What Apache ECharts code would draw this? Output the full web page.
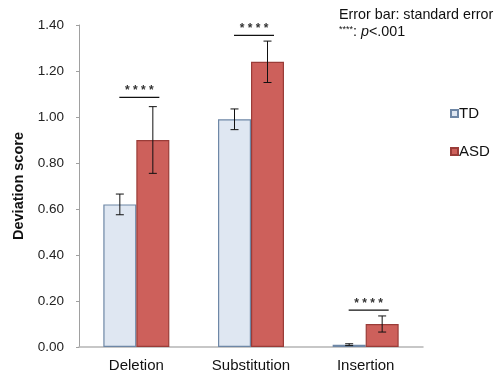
<!DOCTYPE html>
<html><head><meta charset="utf-8">
<script src="https://cdn.jsdelivr.net/npm/echarts@6/dist/echarts.min.js"></script>
<style>html,body{margin:0;padding:0;background:#fff}#c{width:494px;height:374px}</style>
</head><body><div id="c"></div>
<script>
const categories = ['Deletion', 'Substitution', 'Insertion'];
const tdValues = [0.62, 0.99, 0.01];
const asdValues = [0.90, 1.24, 0.10];
const tdErrors = [0.045, 0.045, 0.004];
const asdErrors = [0.145, 0.09, 0.035];
const sigLevels = [1.085, 1.355, 0.16];
const sigLabels = ['* * * *', '* * * *', '* * * *'];

const BAR_W = 33;
const font = 'Liberation Sans, Arial, Helvetica, sans-serif';

function errItem(vals, errs, side) {
  return function (params, api) {
    const i = api.value(0);
    const v = vals[i], e = errs[i];
    const c = api.coord([i, v]);
    const x = c[0] + side * BAR_W / 2;
    const top = api.coord([i, v + e])[1];
    const bot = api.coord([i, v - e])[1];
    const cap = 4;
    const st = { stroke: '#111', lineWidth: 1 };
    return { type: 'group', children: [
      { type: 'line', shape: { x1: x, y1: top, x2: x, y2: bot }, style: st },
      { type: 'line', shape: { x1: x - cap, y1: top, x2: x + cap, y2: top }, style: st },
      { type: 'line', shape: { x1: x - cap, y1: bot, x2: x + cap, y2: bot }, style: st }
    ]};
  };
}

const chart = echarts.init(document.getElementById('c'));
chart.setOption({
  animation: false,
  grid: { left: 79, right: 71, top: 25, bottom: 27 },
  legend: {
    data: ['TD', 'ASD'], orient: 'vertical', left: 450, top: 106, padding: 0, width: 44,
    itemWidth: 7, itemHeight: 7, itemGap: 23, icon: 'rect',
    textStyle: { fontFamily: font, fontSize: 15, color: '#111', padding: [0, 0, 0, -4] }
  },
  xAxis: {
    type: 'category', data: categories,
    axisLine: { lineStyle: { color: '#b5b5b5', width: 1.5 } },
    axisTick: { show: false },
    axisLabel: { fontFamily: font, fontSize: 15, color: '#111', margin: 11 }
  },
  yAxis: {
    type: 'value', min: 0, max: 1.4, interval: 0.2,
    name: 'Deviation score', nameLocation: 'middle', nameGap: 52,
    nameTextStyle: { fontFamily: font, fontSize: 14.5, fontWeight: 'bold', color: '#111' },
    axisLine: { show: true, lineStyle: { color: '#a0a0a0' } },
    axisTick: { show: true, length: 3, lineStyle: { color: '#a0a0a0' } },
    splitLine: { show: false },
    axisLabel: { fontFamily: font, fontSize: 13.5, color: '#222', margin: 15,
      formatter: v => v.toFixed(2) }
  },
  graphic: [
    { type: 'text', left: 339, top: 8, style: { text: 'Error bar: standard error', font: '14.3px ' + font, fill: '#111' } },
    { type: 'text', left: 339, top: 25, style: {
      rich: { s: { fontSize: 9, fontFamily: font, fill: '#111', verticalAlign: 'top' },
              n: { fontSize: 14.3, fontFamily: font, fill: '#111' },
              i: { fontSize: 14.3, fontFamily: font, fontStyle: 'italic', fill: '#111' } },
      text: '{s|****}{n|: }{i|p}{n|<.001}' } }
  ],
  series: [
    { name: 'TD', type: 'bar', data: tdValues, barWidth: BAR_W, barGap: '0%',
      itemStyle: { color: '#dfe7f2', borderColor: '#6e87a6', borderWidth: 1.2 } },
    { name: 'ASD', type: 'bar', data: asdValues, barWidth: BAR_W, barGap: '0%',
      itemStyle: { color: '#cd605b', borderColor: '#9a3c38', borderWidth: 1.2 } },
    { type: 'custom', data: categories.map((c, i) => [i]), renderItem: errItem(tdValues, tdErrors, -1), z: 5 },
    { type: 'custom', data: categories.map((c, i) => [i]), renderItem: errItem(asdValues, asdErrors, 1), z: 5 },
    { type: 'custom', data: sigLevels.map((v, i) => [i, v]), z: 5,
      renderItem: function (params, api) {
        const i = api.value(0);
        const p = api.coord([i, api.value(1)]);
        return { type: 'group', children: [
          { type: 'line', shape: { x1: p[0] - 17, y1: p[1], x2: p[0] + 23, y2: p[1] }, style: { stroke: '#111', lineWidth: 1.3 } },
          { type: 'text', style: { x: p[0] + 3, y: p[1] - 1, text: sigLabels[i], textAlign: 'center', textVerticalAlign: 'bottom', font: 'bold 12px ' + font, fill: '#333' } }
        ]};
      } }
  ]
});
</script></body></html>
